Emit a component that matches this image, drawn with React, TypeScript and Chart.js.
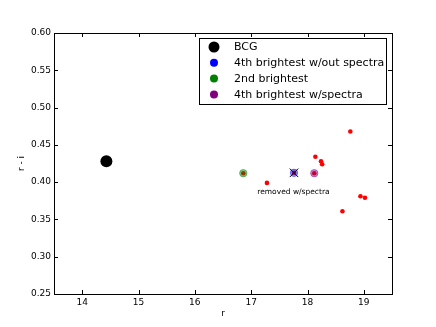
import React, { useEffect, useRef } from "react";
import { Chart, registerables } from "chart.js";

Chart.register(...registerables);

// ---- data ----
const redR = [16.86, 17.76, 18.12, 17.28, 18.14, 18.24, 18.26, 18.76, 18.62, 18.94, 19.02];
const redRI = [0.412, 0.4125, 0.412, 0.399, 0.434, 0.428, 0.424, 0.468, 0.361, 0.381, 0.379];
const bcgR = [14.43];
const bcgRI = [0.428];
const secondR = [16.86];
const secondRI = [0.412];
const fourthNoSpecR = [17.76];
const fourthNoSpecRI = [0.4125];
const fourthSpecR = [18.12];
const fourthSpecRI = [0.412];
const xTicks = [14, 15, 16, 17, 18, 19];
const yTicks = [0.25, 0.3, 0.35, 0.4, 0.45, 0.5, 0.55, 0.6];
const legendLabels = ["BCG", "4th brightest w/out spectra", "2nd brightest", "4th brightest w/spectra"];
const legendColors = ["#000000", "#0000ff", "#008000", "#800080"];
const annotationText = "removed w/spectra";
const annotationR = 17.75;
const annotationRI = 0.3866;
const xTitle = "r";
const yTitle = "r - i";

const pts = (xs: number[], ys: number[]) => xs.map((x, i) => ({ x, y: ys[i] }));
const FONT = "'DejaVu Sans', sans-serif";

const framePlugin = {
  id: "framePlugin",
  afterDraw(chart: any) {
    const { ctx, chartArea: a, scales } = chart;
    const xs = scales.x;
    const ys = scales.y;
    ctx.save();
    ctx.strokeStyle = "#000";
    ctx.lineWidth = 1;
    ctx.strokeRect(Math.round(a.left) + 0.5, Math.round(a.top) + 0.5, Math.round(a.right - a.left), Math.round(a.bottom - a.top));
    const L = 4;
    ctx.beginPath();
    xTicks.forEach((v) => {
      const px = Math.round(xs.getPixelForValue(v)) + 0.5;
      ctx.moveTo(px, a.bottom);
      ctx.lineTo(px, a.bottom - L);
      ctx.moveTo(px, a.top);
      ctx.lineTo(px, a.top + L);
    });
    yTicks.forEach((v) => {
      const py = Math.round(ys.getPixelForValue(v)) + 0.5;
      ctx.moveTo(a.left, py);
      ctx.lineTo(a.left + L, py);
      ctx.moveTo(a.right, py);
      ctx.lineTo(a.right - L, py);
    });
    ctx.stroke();

    ctx.fillStyle = "#000";
    ctx.font = `9px ${FONT}`;
    ctx.textAlign = "center";
    ctx.textBaseline = "middle";
    ctx.fillText(xTitle, (a.left + a.right) / 2, 314);
    ctx.save();
    ctx.translate(22, (a.top + a.bottom) / 2);
    ctx.rotate(-Math.PI / 2);
    ctx.fillText(yTitle, 0, 0);
    ctx.restore();

    ctx.font = `7.5px ${FONT}`;
    ctx.fillText(annotationText, xs.getPixelForValue(annotationR), ys.getPixelForValue(annotationRI));

    const bx = 199.5, by = 38.5, bw = 187, bh = 66;
    ctx.fillStyle = "#fff";
    ctx.fillRect(bx, by, bw, bh);
    ctx.strokeRect(bx, by, bw, bh);
    ctx.font = `11px ${FONT}`;
    ctx.textAlign = "left";
    legendLabels.forEach((lab, i) => {
      const cy = 47 + i * 15.8;
      ctx.beginPath();
      ctx.fillStyle = legendColors[i];
      ctx.arc(214, cy, i === 0 ? 5.5 : 4, 0, Math.PI * 2);
      ctx.fill();
      ctx.fillStyle = "#000";
      ctx.fillText(lab, 234, cy + 0.5);
    });
    ctx.restore();
  },
};

export default function App() {
  const ref = useRef<HTMLCanvasElement | null>(null);
  useEffect(() => {
    if (!ref.current) return;
    const chart = new Chart(ref.current, {
      type: "scatter",
      data: {
        datasets: [
          {
            label: "red",
            data: pts(redR, redRI),
            backgroundColor: "#ff0000",
            borderColor: "#ff0000",
            borderWidth: 0,
            pointRadius: 2.3,
            order: 10,
          },
          {
            label: legendLabels[0],
            data: pts(bcgR, bcgRI),
            backgroundColor: "#000000",
            borderWidth: 0,
            pointRadius: 6,
            order: 5,
          },
          {
            label: legendLabels[1],
            data: pts(fourthNoSpecR, fourthNoSpecRI),
            backgroundColor: "rgba(0,0,255,0.45)",
            borderColor: "rgba(0,0,255,0.45)",
            borderWidth: 1,
            pointRadius: 3.7,
            order: 5,
          },
          {
            label: legendLabels[2],
            data: pts(secondR, secondRI),
            backgroundColor: "rgba(0,128,0,0.45)",
            borderColor: "rgba(0,128,0,0.45)",
            borderWidth: 1,
            pointRadius: 3.7,
            order: 5,
          },
          {
            label: legendLabels[3],
            data: pts(fourthSpecR, fourthSpecRI),
            backgroundColor: "rgba(128,0,128,0.45)",
            borderColor: "rgba(128,0,128,0.45)",
            borderWidth: 1,
            pointRadius: 3.7,
            order: 5,
          },
          {
            label: "x",
            data: pts(fourthNoSpecR, fourthNoSpecRI),
            pointStyle: "crossRot",
            borderColor: "#000",
            borderWidth: 1,
            pointRadius: 6,
            order: 1,
          },
        ],
      },
      options: {
        animation: false,
        responsive: false,
        devicePixelRatio: 1,
        layout: { padding: { left: 0, right: 44, top: 33, bottom: 0 } },
        plugins: { legend: { display: false }, tooltip: { enabled: false } },
        scales: {
          x: {
            type: "linear",
            min: 13.5,
            max: 19.5,
            grid: { display: false, drawTicks: false },
            border: { display: false },
            afterBuildTicks: (s: any) => {
              s.ticks = xTicks.map((v) => ({ value: v }));
            },
            afterFit: (s: any) => {
              s.height = 33;
            },
            ticks: {
              color: "#000",
              font: { family: FONT, size: 9 },
              padding: 3,
              maxRotation: 0,
              callback: (v: any) => String(v),
            },
          },
          y: {
            type: "linear",
            min: 0.25,
            max: 0.6,
            grid: { display: false, drawTicks: false },
            border: { display: false },
            afterBuildTicks: (s: any) => {
              s.ticks = yTicks.map((v) => ({ value: v }));
            },
            afterFit: (s: any) => {
              s.width = 54;
            },
            ticks: {
              color: "#000",
              font: { family: FONT, size: 9 },
              padding: 3,
              callback: (v: any) => Number(v).toFixed(2),
            },
          },
        },
      },
      plugins: [framePlugin],
    } as any);
    return () => chart.destroy();
  }, []);
  return (
    <div style={{ position: "fixed", left: 0, top: 0, width: 436, height: 327, background: "#fff" }}>
      <canvas ref={ref} width={436} height={327} />
    </div>
  );
}
